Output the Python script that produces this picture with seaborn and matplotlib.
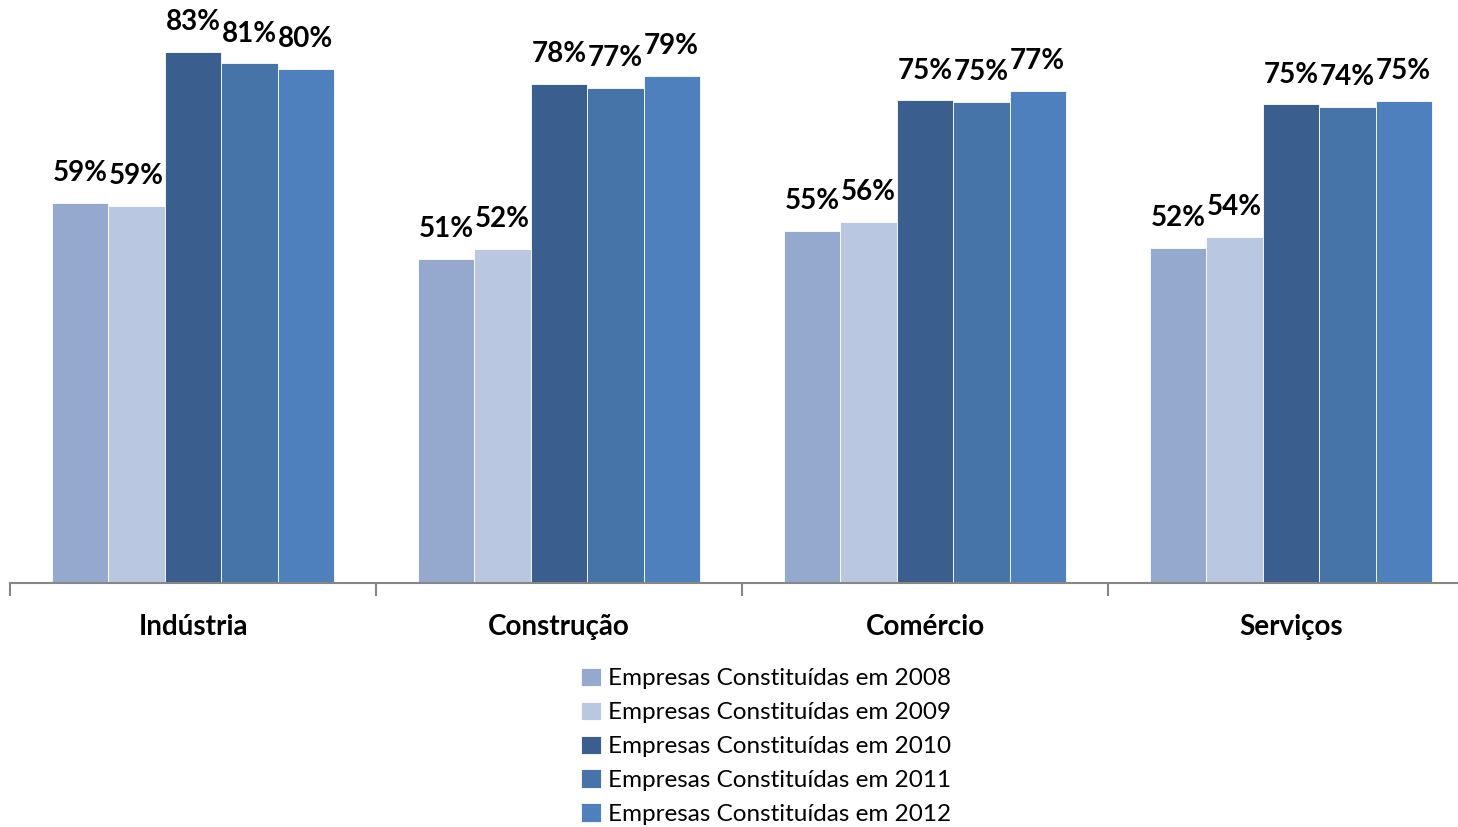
import pandas as pd
import seaborn as sns
import matplotlib.pyplot as plt

# Data
setores = ['Indústria', 'Construção', 'Comércio', 'Serviços']
anos = ['Empresas Constituídas em 2008', 'Empresas Constituídas em 2009',
        'Empresas Constituídas em 2010', 'Empresas Constituídas em 2011',
        'Empresas Constituídas em 2012']
v2008 = [0.594, 0.506, 0.550, 0.524]
v2009 = [0.589, 0.522, 0.564, 0.541]
v2010 = [0.830, 0.780, 0.754, 0.748]
v2011 = [0.812, 0.774, 0.752, 0.744]
v2012 = [0.803, 0.792, 0.769, 0.753]
cores = ['#95A9CF', '#BAC7E0', '#3A5F8E', '#4673A8', '#4D80BC']

series = [v2008, v2009, v2010, v2011, v2012]
rows = []
for ano, vals in zip(anos, series):
    for s, v in zip(setores, vals):
        rows.append({'setor': s, 'ano': ano, 'valor': v})
df = pd.DataFrame(rows)

sns.set_style('white')
plt.rcParams['font.family'] = ['Lato', 'DejaVu Sans']
plt.rcParams['text.color'] = 'black'
plt.rcParams['xtick.color'] = 'black'

fig = plt.figure(figsize=(14.58, 8.27), dpi=100)
W, H = 1458, 827
ax = fig.add_axes([10 / W, (H - 583) / H, 1464 / W, 576 / H])

sns.barplot(data=df, x='setor', y='valor', hue='ano', palette=cores,
            saturation=1, width=0.77, edgecolor='white', linewidth=0.6, ax=ax)

for cont, vals in zip(ax.containers, series):
    ax.bar_label(cont, labels=[f'{round(v * 100)}%' for v in vals],
                 padding=12, fontsize=20, fontweight='bold', color='black')

ax.set_ylim(0, 0.9)
ax.set_xlim(-0.5, 3.5)
ax.set_yticks([])
ax.set_xlabel('')
ax.set_ylabel('')
for side in ['top', 'right', 'left']:
    ax.spines[side].set_visible(False)
ax.spines['bottom'].set_color('#868686')
ax.spines['bottom'].set_linewidth(1.5)

ax.set_xticks(range(len(setores)))
ax.set_xticklabels(setores, fontsize=20, fontweight='bold')
ax.tick_params(axis='x', which='major', length=0, pad=22, labelcolor='black')
ax.set_xticks([-0.5, 0.5, 1.5, 2.5, 3.5], minor=True)
ax.tick_params(axis='x', which='minor', bottom=True, length=9, width=1.5,
               color='#868686', direction='out')

handles, labels = ax.get_legend_handles_labels()
leg = ax.legend(handles, labels, loc='upper center', frameon=False,
                bbox_to_anchor=(766 / W, 1 - 658 / H), bbox_transform=fig.transFigure,
                fontsize=17.5, handlelength=0.8, handleheight=0.8, handletextpad=0.3,
                labelspacing=0.5, borderaxespad=0)
for t in leg.get_texts():
    t.set_color('black')

fig.savefig('out.png', dpi=100)
